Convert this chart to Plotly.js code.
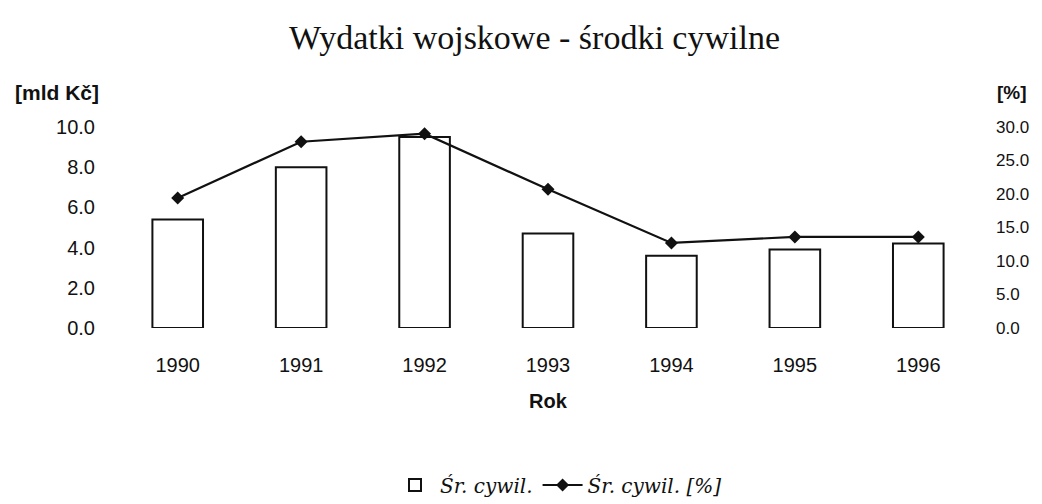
<!DOCTYPE html>
<html>
<head>
<meta charset="utf-8">
<script src="https://cdn.plot.ly/plotly-3.0.1.min.js"></script>
<style>html,body{margin:0;padding:0;background:#fff;}#chart{width:1042px;height:504px;}</style>
</head>
<body>
<div id="chart"></div>
<script>
var years = ["1990", "1991", "1992", "1993", "1994", "1995", "1996"];
var civilBillions = [5.4, 8.0, 9.5, 4.7, 3.6, 3.9, 4.2];
var civilPercent = [19.4, 27.8, 29.0, 20.7, 12.7, 13.6, 13.6];
var leftTicks = [0, 2, 4, 6, 8, 10];
var rightTicks = [0, 5, 10, 15, 20, 25, 30];

var sans = "Liberation Sans, Arial, sans-serif";
var ink = "#111";

var traces = [
  {
    type: "bar", name: "Śr. cywil.", x: years, y: civilBillions,
    marker: {color: "#fff", line: {color: ink, width: 2}},
    yaxis: "y", hoverinfo: "x+y"
  },
  {
    type: "scatter", mode: "lines+markers", name: "Śr. cywil. [%]",
    x: years, y: civilPercent, yaxis: "y2",
    line: {color: ink, width: 2.2},
    marker: {symbol: "diamond", size: 10, color: ink}
  }
];

var layout = {
  width: 1042, height: 504,
  paper_bgcolor: "#fff", plot_bgcolor: "#fff",
  margin: {l: 116, r: 62, t: 127, b: 176},
  bargap: 0.59,
  showlegend: true,
  title: {
    text: "Wydatki wojskowe - środki cywilne",
    font: {family: "Liberation Serif, Times New Roman, serif", size: 34, color: ink},
    x: 0.513, xanchor: "center", y: 1 - 37/504, yanchor: "middle", yref: "container"
  },
  xaxis: {
    type: "category", range: [-0.5, 6.5],
    showgrid: false, zeroline: false, showline: false, ticks: "",
    ticklabelstandoff: 23,
    tickfont: {family: sans, size: 20, color: ink},
    title: {text: "<b>Rok</b>", font: {family: sans, size: 20, color: ink}, standoff: 18}
  },
  yaxis: {
    range: [0, 10], tickvals: leftTicks, tickformat: ".1f",
    showgrid: false, zeroline: false, showline: false, ticks: "",
    ticklabelstandoff: 20,
    tickfont: {family: sans, size: 20, color: ink}
  },
  yaxis2: {
    range: [0, 30], tickvals: rightTicks, tickformat: ".1f",
    overlaying: "y", side: "right",
    showgrid: false, zeroline: false, showline: false, ticks: "",
    ticklabelstandoff: 15,
    tickfont: {family: sans, size: 17, color: ink}
  },
  legend: {
    orientation: "h", xref: "container", yref: "container",
    x: 0.536, xanchor: "center", y: 1 - 485/504, yanchor: "middle",
    font: {family: "DejaVu Serif, serif", size: 20, color: ink, style: "italic"},
    itemwidth: 40
  },
  annotations: [
    {text: "<b>[mld Kč]</b>", xref: "paper", yref: "paper",
     x: (57 - 116) / 864, y: (328 - 92) / 201, xanchor: "center", yanchor: "middle", showarrow: false,
     font: {family: sans, size: 21, color: ink}},
    {text: "<b>[%]</b>", xref: "paper", yref: "paper",
     x: (1012 - 116) / 864, y: (328 - 92) / 201, xanchor: "center", yanchor: "middle", showarrow: false,
     font: {family: sans, size: 19, color: ink}}
  ]
};

Plotly.newPlot("chart", traces, layout, {displayModeBar: false, staticPlot: true});
</script>
</body>
</html>
